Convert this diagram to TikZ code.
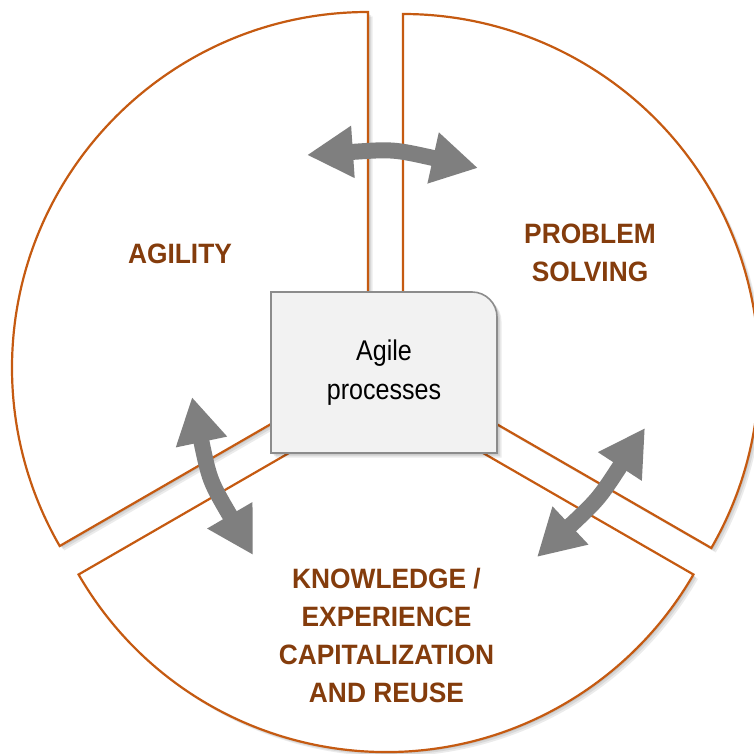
\documentclass[tikz,border=0pt]{standalone}
\usepackage{fontspec}
\setmainfont{Liberation Sans}
\newfontfamily\boxfont{Liberation Sans}[FakeStretch=0.88]
\newfontfamily\labelfont{Liberation Sans}[FakeStretch=0.94]
\usetikzlibrary{arrows.meta,shadows}
\definecolor{outl}{HTML}{C55A11}
\definecolor{lbl}{HTML}{843C0C}
\definecolor{arr}{HTML}{7F7F7F}
\definecolor{boxfill}{HTML}{F2F2F2}
\definecolor{boxline}{HTML}{8C8C8C}
\begin{document}
\begin{tikzpicture}[x=1pt,y=1pt,
  softshadow/.style={
    general shadow={fill=black,opacity=0.08,shadow xshift=1.5pt,shadow yshift=-1.5pt},
    general shadow={fill=black,opacity=0.08,shadow xshift=3pt,shadow yshift=-3pt},
    general shadow={fill=black,opacity=0.08,shadow xshift=4.5pt,shadow yshift=-4.5pt}},
  sector/.style={draw=outl, line width=2.2pt, fill=white, line join=miter, softshadow},
  corebox/.style={draw=boxline, line width=1.6pt, fill=boxfill, softshadow},
  boxtext/.style={align=center, text=black, font=\boxfont\fontsize{28.5}{39}\selectfont},
  lab/.style={align=center, text=lbl, font=\labelfont\bfseries\fontsize{28}{38}\selectfont},
  dbl/.style={draw=arr, line width=16pt, {Triangle[length=46pt,width=49pt]}-{Triangle[length=46pt,width=49pt]}}
]
\useasboundingbox (0,0) rectangle (753,-754);
\fill[white] (0,0) rectangle (753,-754);

% sectors
\path[sector] (368,-368) -- ++(90:356pt) arc[start angle=90, end angle=210, radius=356pt] -- cycle;
\path[sector] (403,-370) -- ++(-30:356pt) arc[start angle=-30, end angle=90, radius=356pt] -- cycle;
\path[sector] (386,-397) -- ++(210:355pt) arc[start angle=210, end angle=330, radius=355pt] -- cycle;

% central box
\path[corebox] (271,-453) -- (271,-292) -- (472,-292) arc[start angle=90, end angle=0, radius=25pt] -- (497,-453) -- cycle;
\node[boxtext] (core) at (384,-372.5) {Agile\\processes};

% labels
\node[lab] (agility) at (180,-254) {AGILITY};
\node[lab] (problem) at (590,-253) {PROBLEM\\SOLVING};
\node[lab] (knowledge) at (386.5,-635) {KNOWLEDGE /\\EXPERIENCE\\CAPITALIZATION\\AND REUSE};

% arrows
\coordinate (t1) at (307,-155);
\coordinate (t2) at (478,-168);
\coordinate (l1) at (192,-397);
\coordinate (l2) at (253,-555);
\coordinate (r1) at (645,-428);
\coordinate (r2) at (537,-557);
\draw[dbl] (t1) .. controls (393.4,-149.1) .. (t2);
\draw[dbl] (l1) .. controls (209.7,-480.9) .. (l2);
\draw[dbl] (r1) .. controls (598.7,-498.9) .. (r2);
\end{tikzpicture}
\end{document}
